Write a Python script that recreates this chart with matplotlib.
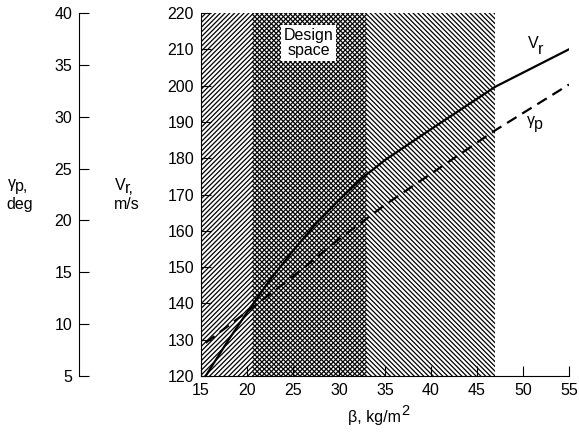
import matplotlib
matplotlib.use("Agg")
import matplotlib.pyplot as plt

plt.rcParams['font.family'] = ['Liberation Sans', 'DejaVu Sans']
plt.rcParams['hatch.linewidth'] = 0.9

# Data
beta_vr = [15.5, 18, 20, 22.5, 25, 27.5, 30, 32.5, 35, 40, 47, 55]
vr = [120, 130, 137.5, 146.5, 154.5, 162, 168.5, 174.5, 179.5, 188, 199.7, 210]
beta_gp = [15.5, 20, 25, 30, 35, 47, 55]
gp = [8.2, 11.2, 14.6, 18.2, 21.5, 28.7, 33.1]

region_a = (15, 33)     # forward hatch
region_b = (20.5, 47)   # backward hatch
x_ticks = [15, 20, 25, 30, 35, 40, 45, 50, 55]
vr_ticks = [120, 130, 140, 150, 160, 170, 180, 190, 200, 210, 220]
gp_ticks = [5, 10, 15, 20, 25, 30, 35, 40]

W, H = 579, 433
fs = 11.5
fig = plt.figure(figsize=(5.79, 4.33), dpi=100)
ax = fig.add_axes([0.3472, 0.1316, 0.6355, 0.8384])
ax.set_xlim(15, 55)
ax.set_ylim(120, 220)
for s in ['top', 'right']:
    ax.spines[s].set_visible(False)
ax.set_xticks(x_ticks)
ax.set_yticks(vr_ticks)
ax.tick_params(direction='in', length=7, width=0.8, labelsize=fs)
ax.tick_params(axis='x', pad=5)
ax.tick_params(axis='y', pad=5)

ax.axvspan(*region_a, facecolor='none', edgecolor='black', linewidth=0, hatch='/' * 7, zorder=1)
ax.axvspan(*region_b, facecolor='none', edgecolor='black', linewidth=0, hatch='\\' * 7, zorder=1)

ax.plot(beta_vr, vr, color='black', lw=1.6, zorder=3)

axg = ax.twinx()
axg.set_ylim(5, 40)
axg.axis('off')
axg.plot(beta_gp, gp, color='black', lw=1.6, dashes=(5, 3), zorder=3)

ax.text(26.7, 211.7, 'Design\nspace', ha='center', va='center', fontsize=fs,
        linespacing=1.0,
        bbox=dict(facecolor='white', edgecolor='none', pad=2), zorder=4)


def sub_label(x, y, main, sub, dy, transform, size=fs, subsize=fs, dx=-0.5):
    t = ax.text(x, y, main, ha='left', va='baseline', fontsize=size, transform=transform,
                clip_on=False)
    ax.annotate(sub, xy=(1, 0), xycoords=t, xytext=(dx, dy), textcoords='offset points',
                ha='left', va='bottom', fontsize=subsize, annotation_clip=False)
    return t


def px(x, y):
    return x / W, 1 - y / H


# in-plot curve labels
sub_label(50.55, 210.4, 'V', 'r', -4.5, ax.transData)
sub_label(50.4, 189.1, 'γ', 'p', -3.0, ax.transData)

# x label
xl, yl = px(348, 422)
sub_label(xl, yl, 'β, kg/m', '2', 5.0, fig.transFigure, subsize=10.5, dx=0.3)

# Left separate gamma axis
axl = fig.add_axes([0.1364, 0.1316, 0.0001, 0.8384])
axl.set_ylim(5, 40)
axl.set_yticks(gp_ticks)
axl.set_xticks([])
for s in ['top', 'right', 'bottom']:
    axl.spines[s].set_visible(False)
axl.patch.set_visible(False)
axl.tick_params(axis='y', direction='in', length=7, width=0.8, labelsize=fs, pad=5)

# axis titles
x0, y0 = px(8, 188)
sub_label(x0, y0, 'γ', 'p,', -2.5, fig.transFigure)
x0, y0 = px(20, 209)
fig.text(x0, y0, 'deg', ha='center', va='baseline', fontsize=fs)
x0, y0 = px(115, 190)
sub_label(x0, y0, 'V', 'r,', -2.5, fig.transFigure)
x0, y0 = px(127, 209)
fig.text(x0, y0, 'm/s', ha='center', va='baseline', fontsize=fs)

fig.savefig('out.png', dpi=100)
